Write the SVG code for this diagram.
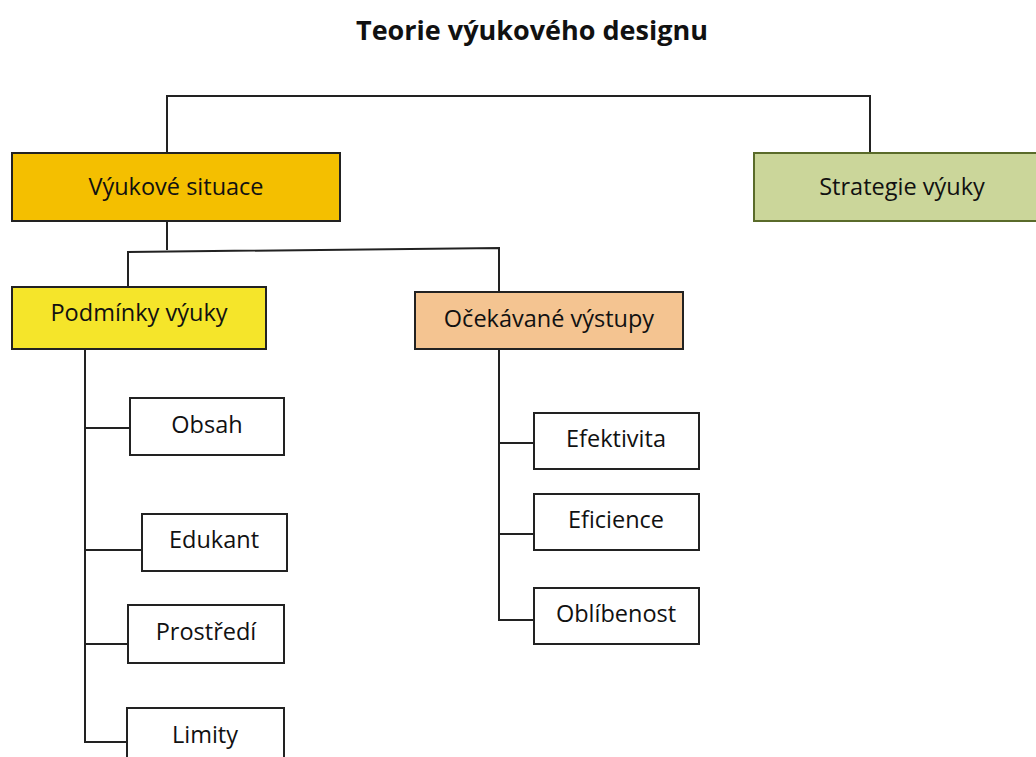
<svg xmlns="http://www.w3.org/2000/svg" width="1036" height="757" viewBox="0 0 1036 757">
<style>
text{font-family:"Open Sans","Liberation Sans",sans-serif;font-size:23.5px;fill:#111;text-anchor:middle;dominant-baseline:central}
.title{font-size:27px;font-weight:bold}
.box{stroke:#222;stroke-width:2}
.leaf{fill:#fff}
.conn{fill:none;stroke:#222;stroke-width:2}
</style>
<rect width="1036" height="757" fill="#fff"/>
<text class="title" x="532" y="29">Teorie výukového designu</text>
<g id="connectors">
<path class="conn" d="M167,153 V96 H870 V153"/>
<path class="conn" d="M167,221 V250"/>
<path class="conn" d="M128,287 V252 L499,248 V292"/>
<path class="conn" d="M85,349 V742 H127 M85,428 H130 M85,550 H142 M85,644 H128"/>
<path class="conn" d="M499,349 V620 H534 M499,443 H534 M499,534 H534"/>
</g>
<g id="vyukove-situace"><rect class="box" x="12" y="153" width="328" height="68" fill="#F4BF00"/><text x="176" y="186">Výukové situace</text></g>
<g id="strategie-vyuky"><rect x="754" y="153" width="290" height="68" fill="#CBD69A" stroke="#5A6B2A" stroke-width="2"/><text x="902" y="186">Strategie výuky</text></g>
<g id="podminky-vyuky"><rect class="box" x="12" y="287" width="254" height="62" fill="#F5E52A"/><text x="139" y="312">Podmínky výuky</text></g>
<g id="ocekavane-vystupy"><rect class="box" x="415" y="292" width="268" height="57" fill="#F4C491"/><text x="549" y="318">Očekávané výstupy</text></g>
<g id="obsah"><rect class="box leaf" x="130" y="398" width="154" height="57"/><text x="207" y="424">Obsah</text></g>
<g id="edukant"><rect class="box leaf" x="142" y="514" width="145" height="57"/><text x="214" y="539">Edukant</text></g>
<g id="prostredi"><rect class="box leaf" x="128" y="605" width="156" height="58"/><text x="206" y="631">Prostředí</text></g>
<g id="limity"><rect class="box leaf" x="127" y="708" width="157" height="60"/><text x="205" y="734">Limity</text></g>
<g id="efektivita"><rect class="box leaf" x="534" y="413" width="165" height="56"/><text x="616" y="438">Efektivita</text></g>
<g id="eficience"><rect class="box leaf" x="534" y="494" width="165" height="56"/><text x="616" y="519">Eficience</text></g>
<g id="oblibenost"><rect class="box leaf" x="534" y="588" width="165" height="56"/><text x="616" y="613">Oblíbenost</text></g>
</svg>
